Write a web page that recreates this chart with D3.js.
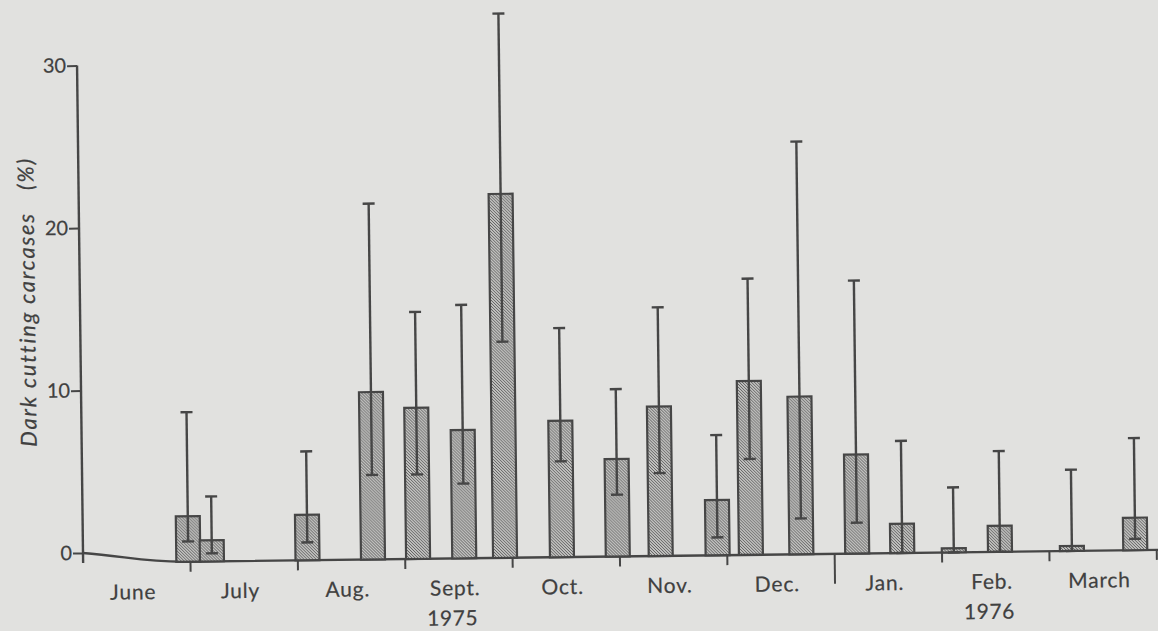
<!DOCTYPE html>
<html>
<head>
<meta charset="utf-8">
<script src="https://cdn.jsdelivr.net/npm/d3@7"></script>
<style>
  html, body { margin: 0; padding: 0; background: #e1e1df; }
  svg { display: block; }
  text { font-family: Lato, "Noto Sans", sans-serif; fill: #404040; stroke: #404040; stroke-width: 0.2px; }
</style>
</head>
<body>
<svg id="chart" width="1158" height="631"></svg>
<script>
// ---------------- data ----------------
// month labels (June 1975 .. March 1976)
const months = ["June", "July", "Aug.", "Sept.", "Oct.", "Nov.", "Dec.", "Jan.", "Feb.", "March"];
// year labels and the month they sit under
const yearLabels = ["1975", "1976"];
const yearUnderMonth = ["Sept.", "Feb."];
// y axis tick values
const yTicks = [0, 10, 20, 30];
// sample position, in months since 1 June 1975
const samplePos = [0.98, 1.20, 2.09, 2.70, 3.12, 3.55, 3.93, 4.46, 4.98, 5.38,
                   5.91, 6.22, 6.69, 7.21, 7.63, 8.11, 8.54, 9.21, 9.80];
// dark cutting carcases (%)
const darkCutting = [2.8, 1.3, 2.8, 10.3, 9.3, 7.9, 22.4, 8.4, 6.0, 9.2,
                     3.4, 10.7, 9.7, 6.1, 1.8, 0.25, 1.6, 0.3, 2.0];
// lower / upper limits of the error bars (%)
const ciLow  = [1.25, 0.5, 1.1, 5.2, 5.2, 4.6, 13.3, 5.9, 3.8, 5.1,
                1.1, 5.9, 2.2, 1.9, 0, 0, 0, 0, 0.7];
const ciHigh = [9.2, 4.0, 6.7, 21.9, 15.2, 15.6, 33.5, 14.1, 10.3, 15.3,
                7.4, 17.0, 25.4, 16.8, 6.9, 4.0, 6.2, 5.0, 6.9];

// ---------------- layout ----------------
const W = 1158, H = 631;
const originX = 83, baseY = 563, pxPerUnit = 16.25;
const axisShift = -10;          // the drawn y axis sits a little above the bar base line
const tilt = -0.7;              // the scanned figure is slightly rotated
const ink = "#464646";

const svg = d3.select("#chart").attr("viewBox", `0 0 ${W} ${H}`);

const defs = svg.append("defs");
const pat = defs.append("pattern")
  .attr("id", "hatch").attr("patternUnits", "userSpaceOnUse")
  .attr("width", 3).attr("height", 3);
pat.append("rect").attr("width", 3).attr("height", 3).attr("fill", "#c2c2c0");
pat.append("path").attr("d", "M0,0 L3,3 M-1,2 L1,4 M2,-1 L4,1")
  .attr("stroke", "#555").attr("stroke-width", 0.9);

const root = svg.append("g").attr("transform", `rotate(${tilt},${originX},${baseY - 10})`);

const x = d3.scaleLinear().domain([0, months.length]).range([originX, originX + 107.37 * months.length]);
const y = d3.scaleLinear().domain([0, 30]).range([baseY, baseY - pxPerUnit * 30]);

// ---------------- y axis ----------------
const yAxis = root.append("g")
  .attr("transform", `translate(${originX},${axisShift})`)
  .call(d3.axisLeft(y).tickValues(yTicks).tickSize(10).tickPadding(1).tickSizeOuter(0));
yAxis.select(".domain").remove();
yAxis.selectAll(".tick line").attr("stroke", ink).attr("stroke-width", 2);
yAxis.selectAll(".tick text")
  .attr("font-size", 20).attr("fill", "#404040")
  .style("font-family", "Lato, 'Noto Sans', sans-serif");

root.append("line")
  .attr("x1", originX).attr("x2", originX)
  .attr("y1", y(30) + axisShift).attr("y2", y(0))
  .attr("stroke", ink).attr("stroke-width", 2.4);

// ---------------- base line ----------------
const bp = d3.path();
bp.moveTo(x(0), y(0) + axisShift);
bp.bezierCurveTo(x(0.4), y(0) + axisShift + 4, x(0.6), y(0), x(0.95), y(0));
bp.lineTo(x(months.length) + 4, y(0));
root.append("path").attr("d", bp.toString())
  .attr("fill", "none").attr("stroke", ink).attr("stroke-width", 2.4);

// month boundary ticks (long one at the year change)
const boundaries = d3.range(1, months.length + 1);
root.selectAll("line.mtick").data(boundaries).join("line")
  .attr("class", "mtick")
  .attr("x1", d => x(d)).attr("x2", d => x(d))
  .attr("y1", y(0)).attr("y2", d => y(0) + (months[d] === "Jan." ? 30 : 10))
  .attr("stroke", ink).attr("stroke-width", 2);

// month labels
root.selectAll("text.month").data(months).join("text")
  .attr("class", "month")
  .attr("x", (d, i) => x(i + 0.5) - 4)
  .attr("y", y(0) + 37)
  .attr("text-anchor", "middle")
  .attr("font-size", 21)
  .attr("letter-spacing", 0.8)
  .text(d => d);

// year labels
root.selectAll("text.year").data(yearLabels).join("text")
  .attr("class", "year")
  .attr("x", (d, i) => x(months.indexOf(yearUnderMonth[i]) + 0.5) - 7)
  .attr("y", y(0) + 67)
  .attr("text-anchor", "middle")
  .attr("font-size", 21)
  .attr("letter-spacing", 0.6)
  .text(d => d);

// y axis title
const yt = root.append("text")
  .attr("transform", `translate(38,${(y(0) + y(30)) / 2 - 18}) rotate(-90)`)
  .attr("text-anchor", "middle")
  .attr("font-size", 22)
  .attr("font-style", "italic")
  .attr("letter-spacing", 1.8);
yt.append("tspan").text("Dark cutting carcases");
yt.append("tspan").attr("dx", 22).text("(%)");

// ---------------- bars ----------------
const samples = samplePos.map((p, i) => ({ p, v: darkCutting[i], lo: ciLow[i], hi: ciHigh[i] }));
const barW = 24, capW = 12;

root.selectAll("rect.bar").data(samples).join("rect")
  .attr("class", "bar")
  .attr("x", d => x(d.p) - barW / 2)
  .attr("width", barW)
  .attr("y", d => y(d.v))
  .attr("height", d => y(0) - y(d.v))
  .attr("fill", "url(#hatch)")
  .attr("stroke", ink).attr("stroke-width", 2.2);

// error bars
const eb = root.selectAll("g.err").data(samples).join("g").attr("class", "err")
  .attr("stroke", ink).attr("stroke-width", 2.4);
eb.append("line")
  .attr("x1", d => x(d.p)).attr("x2", d => x(d.p))
  .attr("y1", d => y(d.hi)).attr("y2", d => y(d.lo));
eb.append("line")
  .attr("x1", d => x(d.p) - capW / 2).attr("x2", d => x(d.p) + capW / 2)
  .attr("y1", d => y(d.hi)).attr("y2", d => y(d.hi));
eb.append("line")
  .attr("x1", d => x(d.p) - capW / 2).attr("x2", d => x(d.p) + capW / 2)
  .attr("y1", d => y(d.lo)).attr("y2", d => y(d.lo));
</script>
</body>
</html>
